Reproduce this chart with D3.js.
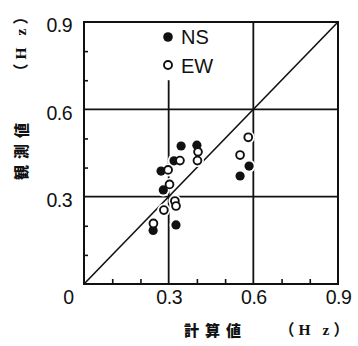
<!DOCTYPE html>
<html><head><meta charset="utf-8">
<script src="https://cdn.jsdelivr.net/npm/d3@7"></script>
<style>body{margin:0;background:#fff}</style></head>
<body><svg id="c" width="358" height="346"></svg>
<script>
// ---- data ----
const nsCalc = [0.344, 0.400, 0.319, 0.273, 0.281, 0.326, 0.245, 0.553, 0.585];
const nsObs  = [0.474, 0.477, 0.423, 0.388, 0.323, 0.203, 0.184, 0.371, 0.405];
const ewCalc = [0.582, 0.553, 0.404, 0.402, 0.340, 0.298, 0.303, 0.322, 0.326, 0.283, 0.246];
const ewObs  = [0.504, 0.443, 0.454, 0.424, 0.424, 0.392, 0.342, 0.285, 0.268, 0.254, 0.208];
const majorTicks = [0, 0.3, 0.6, 0.9];
const tickLabels = ["0", "0.3", "0.6", "0.9"];
const minorTicks = [0.1, 0.2, 0.4, 0.5, 0.7, 0.8];
const legendLabels = ["NS", "EW"];
const xTitle = "計算値", yTitle = "観測値", unitText = "（H z）";

// ---- drawing ----
const svg = d3.select("#c");
const x = d3.scaleLinear([0, 0.9], [84, 338]);
const y = d3.scaleLinear([0, 0.9], [284, 22]);
const ink = "#111";

// grid lines
const g = svg.append("g").attr("stroke", ink).attr("stroke-width", 1.8);
g.append("line").attr("x1", x(0)).attr("x2", x(0.9)).attr("y1", y(0.6)).attr("y2", y(0.6));
g.append("line").attr("x1", x(0)).attr("x2", x(0.9)).attr("y1", y(0.3)).attr("y2", y(0.3));
g.append("line").attr("x1", x(0.6)).attr("x2", x(0.6)).attr("y1", y(0)).attr("y2", y(0.9));
g.append("line").attr("x1", x(0.3)).attr("x2", x(0.3)).attr("y1", y(0)).attr("y2", y(0.70));
// diagonal
svg.append("line").attr("x1", x(0)).attr("y1", y(0)).attr("x2", x(0.9)).attr("y2", y(0.9))
  .attr("stroke", ink).attr("stroke-width", 1.6);

// frame
svg.append("rect").attr("x", x(0)).attr("y", y(0.9)).attr("width", x(0.9) - x(0))
  .attr("height", y(0) - y(0.9)).attr("fill", "none").attr("stroke", ink).attr("stroke-width", 2);

// minor ticks (inward)
svg.append("g").attr("transform", `translate(0,${y(0)})`)
  .call(d3.axisBottom(x).tickValues(minorTicks).tickSize(-5).tickFormat(""))
  .call(a => a.select(".domain").remove())
  .selectAll("line").attr("stroke", ink).attr("stroke-width", 1.6);
svg.append("g").attr("transform", `translate(${x(0)},0)`)
  .call(d3.axisLeft(y).tickValues(minorTicks).tickSize(-4).tickFormat(""))
  .call(a => a.select(".domain").remove())
  .selectAll("line").attr("stroke", ink).attr("stroke-width", 1.6);

// tick labels
const lblFont = "'Liberation Sans', Arial, sans-serif";
const ax = svg.append("g").attr("transform", `translate(0,${y(0)})`)
  .call(d3.axisBottom(x).tickValues(majorTicks).tickSize(0).tickPadding(6)
    .tickFormat((d, i) => tickLabels[i]));
ax.select(".domain").remove();
ax.selectAll("text").attr("font-family", lblFont).attr("font-size", 19.5).attr("fill", ink)
  .attr("letter-spacing", -0.5)
  .attr("dx", d => d === 0 ? -16 : 0);
const ay = svg.append("g").attr("transform", `translate(${x(0)},0)`)
  .call(d3.axisLeft(y).tickValues(majorTicks.slice(1)).tickSize(0).tickPadding(12)
    .tickFormat((d) => tickLabels[majorTicks.indexOf(d)]));
ay.select(".domain").remove();
ay.selectAll("text").attr("font-family", lblFont).attr("font-size", 19.5).attr("fill", ink)
  .attr("letter-spacing", -0.5).attr("dy", "0.5em");

// axis titles
const cjk = "'Noto Sans CJK JP', sans-serif";
const unitFont = "'Liberation Serif', 'Noto Sans CJK JP', serif";
svg.append("text").attr("x", 212.5).attr("y", 329).attr("text-anchor", "middle")
  .attr("dominant-baseline", "central").attr("font-family", cjk).attr("font-weight", 900)
  .attr("font-size", 15).attr("letter-spacing", 6).attr("dx", 3).attr("fill", ink).text(xTitle);
svg.append("text").attr("x", 316).attr("y", 329).attr("text-anchor", "middle")
  .attr("dominant-baseline", "central").attr("font-family", unitFont).attr("font-weight", 700)
  .attr("font-size", 15.5).attr("letter-spacing", 4).attr("fill", ink).text(unitText);

const yt = svg.append("g").attr("transform", "translate(20,0) rotate(-90)");
yt.append("text").attr("x", -151.5).attr("y", 0).attr("text-anchor", "middle")
  .attr("dominant-baseline", "central").attr("font-family", cjk).attr("font-weight", 900)
  .attr("font-size", 15).attr("letter-spacing", 6).attr("dx", 3).attr("fill", ink).text(yTitle);
yt.append("text").attr("x", -42).attr("y", 0).attr("text-anchor", "middle")
  .attr("dominant-baseline", "central").attr("font-family", unitFont).attr("font-weight", 700)
  .attr("font-size", 15.5).attr("letter-spacing", 4).attr("fill", ink).text(unitText);

// points
const ns = nsCalc.map((c, i) => ({c, o: nsObs[i]}));
const ew = ewCalc.map((c, i) => ({c, o: ewObs[i]}));
const halo = svg.append("g");
halo.selectAll("circle").data(ns.concat(ew)).join("circle")
  .attr("cx", d => x(d.c)).attr("cy", d => y(d.o)).attr("r", 6.5).attr("fill", "#fff");
svg.append("g").selectAll("circle").data(ns).join("circle")
  .attr("cx", d => x(d.c)).attr("cy", d => y(d.o)).attr("r", 4.6).attr("fill", ink);
svg.append("g").selectAll("circle").data(ew).join("circle")
  .attr("cx", d => x(d.c)).attr("cy", d => y(d.o)).attr("r", 3.9)
  .attr("fill", "#fff").attr("stroke", ink).attr("stroke-width", 1.9);

// legend
const lg = svg.append("g");
lg.append("circle").attr("cx", 168).attr("cy", 37).attr("r", 4.8).attr("fill", ink);
lg.append("circle").attr("cx", 168).attr("cy", 65).attr("r", 4).attr("fill", "#fff")
  .attr("stroke", ink).attr("stroke-width", 1.9);
lg.selectAll("text").data(legendLabels).join("text")
  .attr("x", 181).attr("y", (d, i) => 37 + i * 29).attr("dominant-baseline", "central")
  .attr("font-family", lblFont).attr("font-size", 20).attr("fill", ink).text(d => d);
</script></body></html>
